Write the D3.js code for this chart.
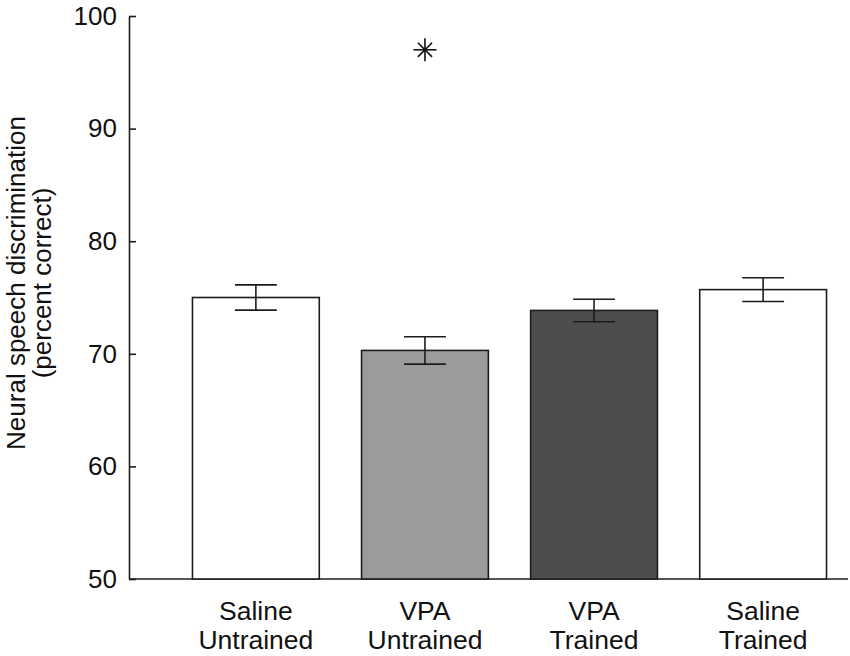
<!DOCTYPE html>
<html>
<head>
<meta charset="utf-8">
<script src="https://cdn.jsdelivr.net/npm/d3@7"></script>
<style>
  body { margin: 0; background: #fff; }
  text { font-family: "Liberation Sans", Arial, sans-serif; fill: #111; }
</style>
</head>
<body>
<div id="chart"></div>
<script>
// data
var groups = ["Saline Untrained", "VPA Untrained", "VPA Trained", "Saline Trained"];
var labelLines = [["Saline", "Untrained"], ["VPA", "Untrained"], ["VPA", "Trained"], ["Saline", "Trained"]];
var means = [75.0, 70.3, 73.85, 75.7];
var errors = [1.12, 1.22, 1.0, 1.05];
var fills = ["#ffffff", "#9b9b9b", "#4d4d4d", "#ffffff"];
var yTicks = [50, 60, 70, 80, 90, 100];
var starGroup = "VPA Untrained";
var starValue = 97;

var width = 850, height = 656;
var ink = "#1c1c1c";

var svg = d3.select("#chart").append("svg")
    .attr("width", width)
    .attr("height", height);

var y = d3.scaleLinear().domain([50, 100]).range([579, 16]);
var x = d3.scaleBand().domain(groups).range([171, 848])
    .paddingInner(0.25).paddingOuter(0.127);
var axisX = 129;

/* Y AXIS */
var yaxis = svg.append("g")
    .attr("transform", "translate(" + axisX + ",0)")
    .call(d3.axisLeft(y).tickValues(yTicks).tickSizeInner(-7).tickSizeOuter(0).tickPadding(12));
yaxis.select(".domain").attr("stroke", ink).attr("stroke-width", 1.6);
yaxis.selectAll(".tick line").attr("stroke", ink).attr("stroke-width", 1.6);
yaxis.selectAll(".tick text")
    .style("font-family", "'Liberation Sans', Arial, sans-serif")
    .style("font-size", "26px")
    .attr("fill", "#111");

// baseline
svg.append("line")
    .attr("x1", axisX).attr("x2", x.range()[1])
    .attr("y1", y(50)).attr("y2", y(50))
    .attr("stroke", ink).attr("stroke-width", 1.6);

/* BARS */
var serie = svg.selectAll(".serie")
    .data(groups)
    .enter().append("g")
      .attr("class", "serie");

serie.append("rect")
    .attr("x", function (d) { return x(d); })
    .attr("y", function (d, i) { return y(means[i]); })
    .attr("width", x.bandwidth())
    .attr("height", function (d, i) { return y(50) - y(means[i]); })
    .attr("fill", function (d, i) { return fills[i]; })
    .attr("stroke", ink)
    .attr("stroke-width", 1.6);

// error bars
var cap = x.bandwidth() * 0.33;
serie.append("line")
    .attr("x1", function (d) { return x(d) + x.bandwidth() / 2; })
    .attr("x2", function (d) { return x(d) + x.bandwidth() / 2; })
    .attr("y1", function (d, i) { return y(means[i] - errors[i]); })
    .attr("y2", function (d, i) { return y(means[i] + errors[i]); })
    .attr("stroke", ink).attr("stroke-width", 1.6);
[-1, 1].forEach(function (s) {
    serie.append("line")
        .attr("x1", function (d) { return x(d) + x.bandwidth() / 2 - cap / 2; })
        .attr("x2", function (d) { return x(d) + x.bandwidth() / 2 + cap / 2; })
        .attr("y1", function (d, i) { return y(means[i] + s * errors[i]); })
        .attr("y2", function (d, i) { return y(means[i] + s * errors[i]); })
        .attr("stroke", ink).attr("stroke-width", 1.6);
});

/* CATEGORY LABELS */
serie.append("text")
    .attr("text-anchor", "middle")
    .style("font-size", "26.5px")
    .selectAll("tspan")
    .data(function (d, i) { return labelLines[i].map(function (t) { return { t: t, g: d }; }); })
    .enter().append("tspan")
      .attr("x", function (d) { return x(d.g) + x.bandwidth() / 2; })
      .attr("y", function (d, j) { return 620 + j * 29; })
      .text(function (d) { return d.t; });

/* SIGNIFICANCE STAR */
var sx = x(starGroup) + x.bandwidth() / 2, sy = y(starValue);
var star = svg.append("g").attr("transform", "translate(" + sx + "," + sy + ")");
[0, 45, 90, 135].forEach(function (a) {
    var r = (a % 90 === 0) ? 11.5 : 10;
    var rad = a * Math.PI / 180;
    star.append("line")
        .attr("x1", -r * Math.cos(rad)).attr("y1", -r * Math.sin(rad))
        .attr("x2", r * Math.cos(rad)).attr("y2", r * Math.sin(rad))
        .attr("stroke", "#111").attr("stroke-width", 1.6);
});

/* Y TITLE */
var title = svg.append("text")
    .attr("transform", "translate(0,283) rotate(-90)")
    .attr("text-anchor", "middle")
    .style("font-size", "26px");
title.append("tspan").attr("x", 0).attr("y", 25).text("Neural speech discrimination");
title.append("tspan").attr("x", 0).attr("y", 51).text("(percent correct)");
</script>
</body>
</html>
